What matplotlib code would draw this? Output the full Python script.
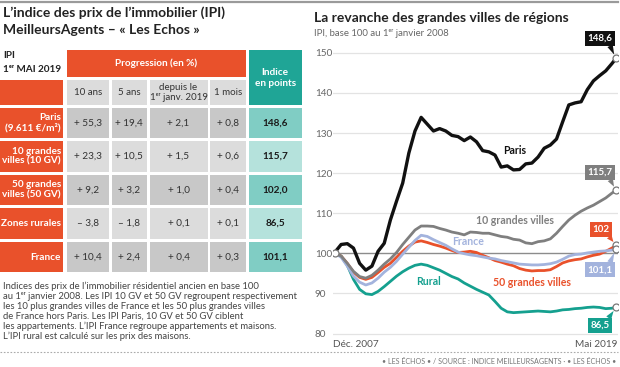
import matplotlib
matplotlib.use("Agg")
import matplotlib.pyplot as plt
from matplotlib.patches import Rectangle

plt.rcParams['font.family'] = ['Lato', 'DejaVu Sans']

# ---------------- data ----------------
row_labels = ["Paris\n(9.611 €/m²)", "10 grandes\nvilles (10 GV)", "50 grandes\nvilles (50 GV)",
              "Zones rurales", "France"]
col_headers = ["10 ans", "5 ans", "depuis le\n1ᵉʳ janv. 2019", "1 mois"]
prog_10y = [55.3, 23.3, 9.2, -3.8, 10.4]
prog_5y = [19.4, 10.5, 3.2, -1.8, 2.4]
prog_jan = [2.1, 1.5, 1.0, 0.1, 0.4]
prog_1m = [0.8, 0.6, 0.4, 0.1, 0.3]
index_pts = [148.6, 115.7, 102.0, 86.5, 101.1]

# months since Dec 2007 (quarterly readings, last = May 2019)
months = list(range(0, 136, 3)) + [137]
paris = [100.3, 102.2, 102.4, 101.3, 97.5, 95.8, 96.8, 100.5, 102.5, 108.3, 113.0, 117.5,
         125.0, 130.5, 133.9, 132.2, 130.5, 131.1, 130.5, 129.4, 129.1, 128.1, 129.0, 127.8,
         125.6, 125.3, 124.5, 121.5, 121.8, 120.8, 120.9, 122.3, 122.5, 124.0, 126.2, 127.0,
         128.5, 132.8, 137.0, 137.5, 137.8, 140.8, 143.0, 144.3, 145.5, 147.3, 148.6]
gv10 = [100.0, 99.3, 97.5, 95.5, 94.2, 93.8, 94.5, 95.8, 97.3, 98.6, 100.2, 102.2,
        104.0, 105.8, 106.8, 106.8, 106.7, 106.2, 105.8, 105.3, 105.0, 104.6, 105.3, 105.2,
        105.0, 105.0, 104.6, 104.2, 104.0, 103.5, 103.3, 102.6, 102.4, 102.9, 103.1, 103.6,
        105.0, 106.7, 108.3, 109.5, 110.5, 111.3, 112.0, 112.9, 113.8, 115.0, 115.7]
gv50 = [100.0, 99.3, 97.5, 95.3, 94.0, 93.5, 94.0, 95.2, 96.5, 97.5, 99.0, 100.5,
        101.8, 102.8, 103.1, 102.7, 102.2, 101.8, 101.3, 100.7, 100.2, 100.3, 100.5, 100.2,
        99.5, 98.9, 98.2, 97.8, 97.3, 96.9, 96.2, 95.8, 95.6, 95.7, 95.7, 95.9,
        96.7, 97.6, 98.1, 98.4, 98.6, 99.1, 99.5, 99.8, 100.5, 101.3, 102.0]
france = [100.0, 99.0, 96.8, 94.3, 92.8, 92.1, 92.6, 93.8, 95.3, 96.5, 98.0, 99.8,
          101.5, 103.2, 104.5, 104.2, 103.4, 102.7, 102.0, 101.1, 100.3, 99.9, 99.6, 99.4,
          99.1, 98.8, 98.6, 98.2, 97.9, 97.6, 97.3, 97.2, 97.1, 97.1, 97.2, 97.4,
          97.8, 98.5, 99.3, 99.7, 99.8, 100.1, 100.3, 100.5, 100.6, 100.8, 101.1]
rural = [100.0, 99.3, 97.0, 93.5, 91.0, 89.9, 89.7, 90.5, 91.7, 93.0, 94.3, 95.4,
         96.3, 97.0, 97.3, 97.0, 96.4, 95.8, 95.0, 94.2, 93.6, 92.6, 91.8, 91.0,
         90.3, 89.6, 88.0, 86.3, 85.4, 85.2, 85.3, 85.4, 85.5, 85.6, 85.5, 85.4,
         85.6, 85.9, 86.0, 86.2, 86.3, 86.5, 86.6, 86.5, 86.2, 86.3, 86.5]
y_ticks = [80, 90, 100, 110, 120, 130, 140, 150]
x_tick_labels = ["Déc. 2007", "Mai 2019"]

ORANGE = "#E9512B"
TEAL = "#1FA596"
TEAL_D = "#80CDC4"
TEAL_L = "#B5E2DC"
GRAY_D = "#C8C8C8"
GRAY_L = "#DCDCDC"
TXT = "#333333"

W, H = 620, 367
fig = plt.figure(figsize=(W / 100, H / 100), dpi=100)
ov = fig.add_axes([0, 0, 1, 1])
ov.set_xlim(0, W)
ov.set_ylim(H, 0)
ov.axis("off")


def rect(x0, y0, x1, y1, color):
    ov.add_patch(Rectangle((x0, y0), x1 - x0, y1 - y0, facecolor=color, edgecolor="none", zorder=1))


def fmt(v):
    s = f"{abs(v):.1f}".replace(".", ",")
    return ("+ " if v >= 0 else "– ") + s


# top rule and bottom dotted rule
ov.plot([0, 618], [1.5, 1.5], color="#9a9a9a", lw=1.6)
ov.plot([0, 618], [352, 352], color="#aaaaaa", lw=0.8, ls=(0, (1.5, 1.5)))

# ---------- left: titles ----------
ov.text(3, 17, "L’indice des prix de l’immobilier (IPI)", fontsize=10, fontweight="bold",
        color="#222", va="baseline", ha="left")
ov.text(3, 34, "MeilleursAgents – « Les Echos »", fontsize=10, fontweight="bold",
        color="#222", va="baseline", ha="left")

# ---------- table ----------
col_x = [(0, 63), (66.5, 109), (111.5, 147), (149.5, 207.5), (210, 246), (248.5, 302)]
rect(66.5, 50, 246, 76.5, ORANGE)
ov.text((66.5 + 246) / 2, 63.5, "Progression (en %)", color="white", fontsize=7.2, fontweight="bold",
        ha="center", va="center")
rect(248.5, 50, 302, 105, TEAL)
ov.text((248.5 + 302) / 2, 78, "Indice\nen points", color="white", fontsize=7.2, fontweight="bold",
        ha="center", va="center", linespacing=1.3)
ov.text(3, 56, "IPI", fontsize=7.2, fontweight="bold", color="#222", va="center")
ov.text(3, 69, "1ᵉʳ MAI 2019", fontsize=7.2, fontweight="bold", color="#222", va="center")
rect(0, 79.5, 63, 105, ORANGE)
for (x0, x1), h in zip(col_x[1:5], col_headers):
    rect(x0, 79.5, x1, 105, GRAY_L)
    ov.text((x0 + x1) / 2, 92.5, h, fontsize=7, color=TXT, ha="center", va="center",
            linespacing=1.1)

cols = [prog_10y, prog_5y, prog_jan, prog_1m]
for i, lab in enumerate(row_labels):
    y0 = 107.5 + i * 33.6
    y1 = y0 + 30.5
    yc = (y0 + y1) / 2
    rect(0, y0, 63, y1, ORANGE)
    ov.text(61, yc, lab, color="white", fontsize=7.2, fontweight="bold", ha="right", va="center",
            linespacing=1.15)
    gcol = GRAY_D if i % 2 == 0 else GRAY_L
    for (x0, x1), vals in zip(col_x[1:5], cols):
        rect(x0, y0, x1, y1, gcol)
        ov.text((x0 + x1) / 2, yc, fmt(vals[i]), fontsize=7.2, color=TXT, ha="center", va="center")
    rect(248.5, y0, 302, y1, TEAL_D if i % 2 == 0 else TEAL_L)
    ov.text((248.5 + 302) / 2, yc, f"{index_pts[i]:.1f}".replace(".", ","), fontsize=7.2,
            fontweight="bold", color="#1a1a1a", ha="center", va="center")

footnote = ("Indices des prix de l’immobilier résidentiel ancien en base 100\n"
            "au 1ᵉʳ janvier 2008. Les IPI 10 GV et 50 GV regroupent respectivement\n"
            "les 10 plus grandes villes de France et les 50 plus grandes villes\n"
            "de France hors Paris. Les IPI Paris, 10 GV et 50 GV ciblent\n"
            "les appartements. L’IPI France regroupe appartements et maisons.\n"
            "L’IPI rural est calculé sur les prix des maisons.")
ov.text(3, 281.5, footnote, fontsize=6.85, color="#444", ha="left", va="top", linespacing=1.12)

ov.text(616, 361, "• LES ÉCHOS • / SOURCE : INDICE MEILLEURSAGENTS · • LES ÉCHOS •",
        fontsize=5.1, color="#777", ha="right", va="center")

# ---------- right: titles ----------
ov.text(314, 22, "La revanche des grandes villes de régions", fontsize=10, fontweight="bold",
        color="#222", va="baseline", ha="left")
ov.text(314, 33, "IPI, base 100 au 1ᵉʳ janvier 2008", fontsize=6.9, color="#666",
        va="center", ha="left")

# ---------- chart ----------
px0, px1 = 335, 616       # pixel positions of first/last month
m0, m1 = months[0], months[-1]
sx = (px1 - px0) / (m1 - m0)
ax_l, ax_r = 333, 618
y100, spp = 253.3, 4.01   # pixel for 100, pixels per point
ax_t, ax_b = 46, 338
ax = fig.add_axes([ax_l / W, 1 - ax_b / H, (ax_r - ax_l) / W, (ax_b - ax_t) / H])
ax.set_xlim(m0 - (px0 - ax_l) / sx, m1 + (ax_r - px1) / sx)
ax.set_ylim(100 - (ax_b - y100) / spp, 100 + (y100 - ax_t) / spp)
ax.patch.set_alpha(0)
for s in ax.spines.values():
    s.set_visible(False)
ax.set_xticks([])
ax.set_yticks([])

for t in y_ticks:
    if t == 100:
        ax.axhline(t, color="#8c8c8c", lw=1.0, zorder=1)
    else:
        ax.axhline(t, color="#e3e3e3", lw=0.9, zorder=0)
    ax.annotate(str(t), xy=(0, t), xycoords=("figure fraction", "data"),
                xytext=(315 * 0.72, -1 * 0.72), textcoords="offset points",
                fontsize=7.2, color="#666", ha="left", va="center")

ax.annotate(x_tick_labels[0], xy=(months[0], 0), xycoords=("data", "axes fraction"),
            xytext=(-2 * 0.72, -2 * 0.72), textcoords="offset points", fontsize=7.2, color="#555",
            ha="left", va="top")
ax.annotate(x_tick_labels[1], xy=(months[-1], 0), xycoords=("data", "axes fraction"),
            xytext=(1 * 0.72, -2 * 0.72), textcoords="offset points", fontsize=7.2, color="#555",
            ha="right", va="top")

series = [
    ("Rural", rural, "#15A08F", 2.0),
    ("50 grandes villes", gv50, ORANGE, 2.0),
    ("France", france, "#A3B3DD", 2.0),
    ("10 grandes villes", gv10, "#7f7f7f", 2.0),
    ("Paris", paris, "#111111", 2.4),
]
for name, vals, col, lw in series:
    ax.plot(months, vals, color=col, lw=lw, solid_capstyle="round", solid_joinstyle="round",
            zorder=3)

# series labels (month, value)
label_pos = {"Paris": (87.8, 125.6), "10 grandes villes": (87.7, 108.1), "France": (64.7, 102.9),
             "Rural": (45.7, 92.9), "50 grandes villes": (96.1, 92.7)}
for name, vals, col, lw in series:
    mx, vy = label_pos[name]
    ax.text(mx, vy, name, color=col, fontsize=7.6, fontweight="bold", ha="center", va="center",
            zorder=5)

# start & end markers
ax.plot([months[0]], [100], marker="o", ms=5, mfc="white", mec="#777", mew=0.9, zorder=6)
for name, vals, col, lw in series:
    ax.plot([months[-1]], [vals[-1]], marker="o", ms=5, mfc="white", mec="#777", mew=0.9,
            zorder=6)

# end-value callouts (offset in pixels: dx, dy up)
callouts = [
    (paris[-1], "#111111", (-16, 20)),
    (gv10[-1], "#7f7f7f", (-16, 18)),
    (gv50[-1], ORANGE, (-15, 16)),
    (france[-1], "#A3B3DD", (-16, -21)),
    (rural[-1], "#15A08F", (-16, -18)),
]
for v, col, (dx, dy) in callouts:
    txt = f"{v:.1f}".replace(".", ",")
    if txt.endswith(",0"):
        txt = txt[:-2]
    ax.annotate(txt, xy=(months[-1], v), xytext=(dx * 0.72, dy * 0.72),
                textcoords="offset points", fontsize=7, fontweight="bold", color="white",
                ha="center", va="center", zorder=7,
                bbox=dict(boxstyle="square,pad=0.3", fc=col, ec="none"),
                arrowprops=dict(arrowstyle="wedge,tail_width=0.6,shrink_factor=0.5", fc=col,
                                ec="none", shrinkA=0, shrinkB=3, relpos=(0.85, 0 if dy > 0 else 1)))

fig.savefig("out.png", dpi=100)
